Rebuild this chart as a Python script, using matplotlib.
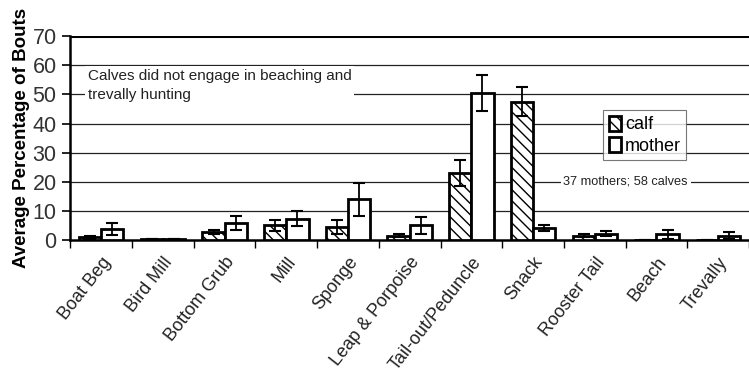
import numpy as np
import matplotlib.pyplot as plt

plt.rcParams['font.family'] = ['Liberation Sans', 'DejaVu Sans']
plt.rcParams['hatch.linewidth'] = 1.0

# data
behaviours = ['Boat Beg', 'Bird Mill', 'Bottom Grub', 'Mill', 'Sponge',
              'Leap & Porpoise', 'Tail-out/Peduncle', 'Snack', 'Rooster Tail',
              'Beach', 'Trevally']
calf = [1.0, 0.3, 2.8, 5.0, 4.5, 1.5, 23.0, 47.5, 1.5, 0, 0]
calf_err = [0.5, 0.1, 0.8, 2.0, 2.5, 0.5, 4.5, 5.0, 0.6, 0, 0]
mother = [3.8, 0.3, 6.0, 7.3, 14.0, 5.0, 50.5, 4.0, 2.2, 2.0, 1.5]
mother_err = [2.0, 0.1, 2.4, 2.5, 5.6, 3.0, 6.2, 1.0, 0.8, 1.5, 1.2]

x = np.arange(len(behaviours))
w = 0.36

fig = plt.figure(figsize=(7.49, 3.81), dpi=100)
ax = fig.add_axes([0.094, 0.37, 0.906, 0.535])

# gridlines
for v in range(10, 70, 10):
    ax.axhline(v, color='#222222', lw=0.9, zorder=0)
ax.axhline(70, color='black', lw=2.2, zorder=0)

ax.bar(x - w / 2, calf, w, color='white', edgecolor='black', linewidth=2,
       hatch='\\\\\\', label='calf', zorder=3)
ax.bar(x + w / 2, mother, w, color='white', edgecolor='black', linewidth=2,
       label='mother', zorder=3)
ax.errorbar(x - w / 2, calf, yerr=calf_err, fmt='none', ecolor='black',
            elinewidth=1.3, capsize=4, capthick=1.5, zorder=4)
ax.errorbar(x + w / 2, mother, yerr=mother_err, fmt='none', ecolor='black',
            elinewidth=1.3, capsize=4, capthick=1.5, zorder=4)

ax.set_xlim(-0.5, len(behaviours) - 0.5)
ax.set_ylim(0, 70)
ax.set_yticks(range(0, 71, 10))
ax.tick_params(axis='y', labelsize=15.5, labelcolor='#333333', length=6,
               width=1.2, direction='out', pad=4)
ax.set_xticks(x)
ax.set_xticklabels(behaviours, rotation=52, ha='right', rotation_mode='anchor',
                   fontsize=13, color='#222222')
ax.set_xticks(np.arange(-0.5, len(behaviours), 1), minor=True)
ax.tick_params(axis='x', which='major', length=0, pad=10)
ax.tick_params(axis='x', which='minor', length=6, width=1)

for s in ['top', 'right']:
    ax.spines[s].set_visible(False)
ax.spines['left'].set_linewidth(1.8)
ax.spines['bottom'].set_linewidth(1.8)

ax.set_ylabel('Average Percentage of Bouts', fontsize=13.5, fontweight='bold',
              labelpad=2)

ax.text(-0.22, 53, 'Calves did not engage in beaching and\ntrevally hunting',
        fontsize=11, color='#222222', va='center', ha='left', linespacing=1.45,
        bbox=dict(facecolor='white', edgecolor='none', pad=2), zorder=2)
ax.text(8.5, 20, '37 mothers; 58 calves', fontsize=9.2, color='#222222',
        va='center', ha='center',
        bbox=dict(facecolor='white', edgecolor='none', pad=2), zorder=2)

leg = ax.legend(loc='upper left', bbox_to_anchor=(0.785, 0.637), fontsize=13,
                frameon=True, fancybox=False, edgecolor='#555555',
                handlelength=0.7, handleheight=0.9, handletextpad=0.2,
                borderpad=0.3, labelspacing=0.2, borderaxespad=0)
leg.get_frame().set_linewidth(0.8)

fig.savefig('out.png', dpi=100)
